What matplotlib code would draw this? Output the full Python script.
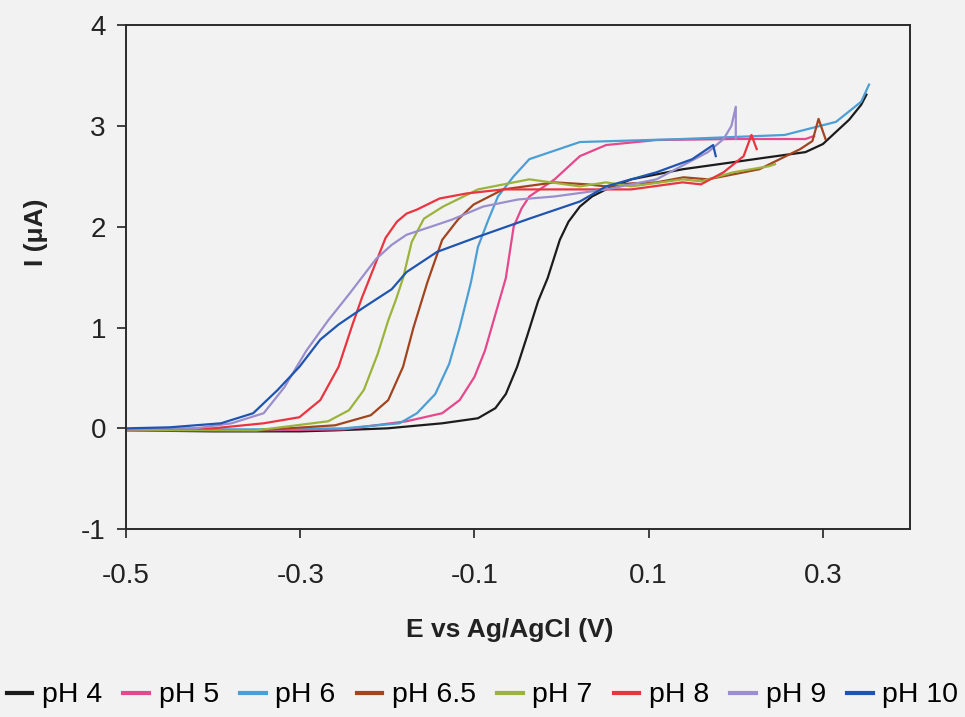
import matplotlib
matplotlib.use("Agg")
import matplotlib.pyplot as plt
from matplotlib.ticker import FixedLocator

plt.rcParams['font.family'] = ['Liberation Sans', 'DejaVu Sans']

# Linear sweep voltammograms at different pH values (E in V, I in microamps)
ph4_E = [-0.5, -0.4, -0.3, -0.26, -0.2, -0.137, -0.096, -0.076, -0.064, -0.051, -0.039,
         -0.027, -0.016, -0.002, 0.008, 0.021, 0.035, 0.051, 0.08, 0.139, 0.197, 0.238,
         0.28, 0.3, 0.315, 0.33, 0.344, 0.35]
ph4_I = [-0.02, -0.03, -0.03, -0.02, 0.0, 0.05, 0.1, 0.2, 0.34, 0.61, 0.93,
         1.26, 1.49, 1.87, 2.05, 2.2, 2.3, 2.37, 2.47, 2.57, 2.64, 2.69,
         2.74, 2.82, 2.94, 3.06, 3.21, 3.31]

ph5_E = [-0.5, -0.35, -0.25, -0.178, -0.137, -0.117, -0.1, -0.088, -0.076, -0.064, -0.055,
         -0.046, -0.037, -0.008, 0.021, 0.051, 0.109, 0.197, 0.28, 0.29]
ph5_I = [-0.01, -0.02, -0.01, 0.07, 0.15, 0.28, 0.51, 0.77, 1.13, 1.49, 2.0,
         2.18, 2.30, 2.47, 2.70, 2.81, 2.86, 2.87, 2.87, 2.9]

ph6_E = [-0.5, -0.35, -0.25, -0.186, -0.166, -0.145, -0.129, -0.117, -0.104, -0.096,
         -0.084, -0.073, -0.055, -0.037, 0.021, 0.139, 0.256, 0.315, 0.344, 0.353]
ph6_I = [-0.01, -0.01, 0.0, 0.05, 0.15, 0.34, 0.64, 1.0, 1.45, 1.80,
         2.07, 2.30, 2.50, 2.67, 2.84, 2.87, 2.91, 3.04, 3.24, 3.41]

ph65_E = [-0.5, -0.35, -0.26, -0.219, -0.199, -0.182, -0.17, -0.154, -0.137, -0.119,
          -0.101, -0.067, -0.008, 0.03, 0.051, 0.08, 0.109, 0.14, 0.168, 0.227, 0.274,
          0.288, 0.295, 0.303]
ph65_I = [-0.01, -0.02, 0.03, 0.13, 0.28, 0.61, 1.0, 1.45, 1.87, 2.07,
          2.22, 2.37, 2.44, 2.42, 2.40, 2.43, 2.44, 2.49, 2.47, 2.57, 2.77,
          2.85, 3.07, 2.87]

ph7_E = [-0.5, -0.35, -0.268, -0.244, -0.227, -0.211, -0.199, -0.19, -0.182, -0.172,
         -0.158, -0.136, -0.096, -0.037, 0.021, 0.051, 0.08, 0.139, 0.16, 0.197, 0.238,
         0.245]
ph7_I = [-0.02, -0.02, 0.07, 0.18, 0.38, 0.74, 1.07, 1.28, 1.49, 1.85,
         2.08, 2.2, 2.37, 2.47, 2.40, 2.44, 2.40, 2.47, 2.45, 2.54, 2.60,
         2.62]

ph8_E = [-0.5, -0.4, -0.342, -0.301, -0.277, -0.256, -0.24, -0.229, -0.223, -0.202,
         -0.189, -0.178, -0.166, -0.14, -0.109, -0.067, 0.021, 0.08, 0.139, 0.16, 0.186,
         0.209, 0.218, 0.224]
ph8_I = [-0.01, 0.0, 0.05, 0.11, 0.28, 0.61, 1.03, 1.30, 1.43, 1.89,
         2.05, 2.13, 2.17, 2.28, 2.33, 2.37, 2.37, 2.37, 2.44, 2.42, 2.54,
         2.70, 2.91, 2.77]

ph9_E = [-0.5, -0.42, -0.379, -0.342, -0.318, -0.293, -0.268, -0.244, -0.213, -0.195,
         -0.178, -0.15, -0.126, -0.09, -0.05, -0.008, 0.051, 0.109, 0.168, 0.186, 0.195,
         0.2, 0.2]
ph9_I = [-0.01, 0.0, 0.05, 0.15, 0.41, 0.77, 1.07, 1.33, 1.68, 1.82,
         1.92, 2.0, 2.07, 2.2, 2.27, 2.30, 2.37, 2.47, 2.74, 2.87, 3.0,
         3.19, 2.87]

ph10_E = [-0.5, -0.45, -0.391, -0.354, -0.326, -0.301, -0.277, -0.256, -0.227, -0.195,
          -0.178, -0.143, -0.096, -0.037, 0.021, 0.051, 0.109, 0.15, 0.174, 0.177]
ph10_I = [0.0, 0.01, 0.05, 0.15, 0.38, 0.61, 0.88, 1.03, 1.2, 1.38,
          1.55, 1.75, 1.9, 2.08, 2.25, 2.40, 2.54, 2.67, 2.81, 2.70]

labels = ["pH 4", "pH 5", "pH 6", "pH 6.5", "pH 7", "pH 8", "pH 9", "pH 10"]
colors = ["#1c1c1c", "#e5488c", "#4b9fd5", "#a2451f", "#9bb33a", "#e83540", "#9a8fcc", "#1f55b0"]
series = [(ph4_E, ph4_I), (ph5_E, ph5_I), (ph6_E, ph6_I), (ph65_E, ph65_I),
          (ph7_E, ph7_I), (ph8_E, ph8_I), (ph9_E, ph9_I), (ph10_E, ph10_I)]

x_ticks = [-0.5, -0.3, -0.1, 0.1, 0.3]
y_ticks = [-1, 0, 1, 2, 3, 4]

bg = "#f3f2f3"
fig = plt.figure(figsize=(9.65, 7.17), dpi=100, facecolor=bg)
ax = fig.add_axes([0.1306, 0.262, 0.8124, 0.703])
ax.set_facecolor(bg)

for (E, I), lab, col in zip(series, labels, colors):
    ax.plot(E, I, color=col, lw=1.6, label=lab)

ax.set_xlim(-0.5, 0.4)
ax.set_ylim(-1, 4)
ax.xaxis.set_major_locator(FixedLocator(x_ticks))
ax.yaxis.set_major_locator(FixedLocator(y_ticks))
ax.set_xticklabels([f"{v:.1f}" for v in x_ticks])
ax.set_yticklabels([str(v) for v in y_ticks])
ax.tick_params(axis='both', direction='out', length=6.5, width=1.2, labelsize=20,
               colors='#222222')
ax.tick_params(axis='x', pad=18)
ax.tick_params(axis='y', pad=8)
for sp in ax.spines.values():
    sp.set_linewidth(1.4)
    sp.set_color('#2a2a2a')

ax.set_xlabel("E vs Ag/AgCl (V)", fontsize=19, fontweight='bold', color='#222222')
ax.xaxis.label.set_va('center')
ax.xaxis.set_label_coords(0.49, -0.2)
ax.set_ylabel("I (\u03bcA)", fontsize=19, fontweight='bold', color='#222222')
ax.yaxis.label.set_va('center')
ax.yaxis.set_label_coords(-0.115, 0.59)

leg = fig.legend(loc='center', bbox_to_anchor=(0.5, 0.03), ncol=8, frameon=False,
                 fontsize=20.5, handlelength=0.9, handletextpad=0.33, columnspacing=0.75,
                 borderpad=0, borderaxespad=0)
for h in leg.get_lines():
    h.set_linewidth(3.0)

fig.savefig("out.png", dpi=100, facecolor=bg)
